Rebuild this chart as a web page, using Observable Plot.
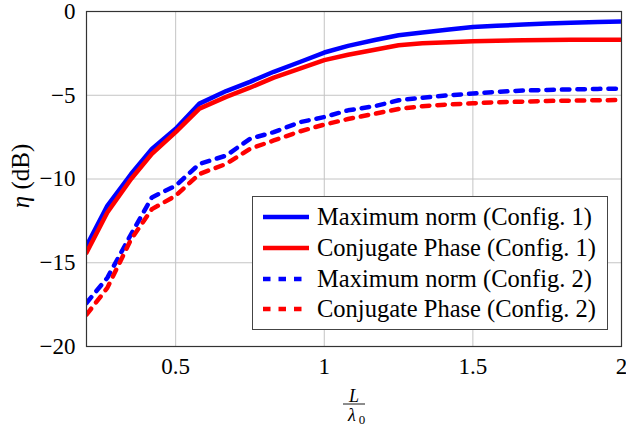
<!DOCTYPE html>
<html><head><meta charset="utf-8">
<script src="https://cdn.jsdelivr.net/npm/d3@7"></script>
<script src="https://cdn.jsdelivr.net/npm/@observablehq/plot@0.6"></script>
<style>
body{margin:0;background:#fff;}
#wrap{position:relative;width:626px;height:430px;font-family:"Liberation Serif","Times New Roman",serif;}
#legend{position:absolute;left:252px;top:196px;width:356px;height:134px;box-sizing:border-box;border:1px solid #444;background:#fff;}
.row{position:absolute;left:0;height:30px;display:flex;align-items:center;font-size:24.5px;color:#000;white-space:nowrap;}
.row svg{margin-left:10px;margin-right:8px;}
#ylabel{position:absolute;left:21px;top:176px;transform:translate(-50%,-50%) rotate(-90deg);font-size:25px;white-space:nowrap;}
#frac{position:absolute;left:0;top:0;pointer-events:none;}
</style></head><body><div id="wrap"></div>
<script>
const xs  = [0.2, 0.27, 0.35, 0.42, 0.5, 0.58, 0.67, 0.75, 0.83, 0.92, 1.0, 1.08, 1.17, 1.25, 1.33, 1.42, 1.5, 1.58, 1.67, 1.75, 1.83, 1.92, 2.0];
const mn1 = [-14.0, -11.6, -9.7, -8.2, -7.0, -5.5, -4.75, -4.2, -3.6, -3.0, -2.45, -2.05, -1.7, -1.42, -1.25, -1.08, -0.93, -0.85, -0.78, -0.72, -0.67, -0.63, -0.6];
const cp1 = [-14.4, -12.0, -10.0, -8.5, -7.2, -5.8, -5.1, -4.55, -3.95, -3.4, -2.9, -2.58, -2.28, -2.02, -1.9, -1.83, -1.78, -1.74, -1.71, -1.7, -1.69, -1.68, -1.68];
const mn2 = [-17.4, -15.9, -13.3, -11.1, -10.4, -9.1, -8.6, -7.6, -7.2, -6.6, -6.3, -5.9, -5.65, -5.3, -5.15, -5.0, -4.9, -4.8, -4.72, -4.68, -4.65, -4.62, -4.6];
const cp2 = [-18.1, -16.5, -13.6, -11.8, -11.0, -9.7, -9.1, -8.2, -7.7, -7.15, -6.75, -6.42, -6.1, -5.82, -5.65, -5.55, -5.48, -5.42, -5.38, -5.34, -5.32, -5.3, -5.28];
const seriesNames = ["Maximum norm (Config. 1)", "Conjugate Phase (Config. 1)", "Maximum norm (Config. 2)", "Conjugate Phase (Config. 2)"];
const seriesValues = [mn1, cp1, mn2, cp2];
const seriesColors = ["#0000ff", "#ff0000", "#0000ff", "#ff0000"];
const seriesDash = [null, null, "7.5,8", "7.5,8"];
const xTicks = [0.5, 1, 1.5, 2];
const yTicks = [0, -5, -10, -15, -20];

const series = seriesValues.map((vals, i) => vals.map((v, j) => ({x: xs[j], y: v, s: seriesNames[i]})));

const fmt = d => (d < 0 ? "\u2212" + String(-d) : String(d));
const FONT = '"Liberation Serif","Times New Roman",serif';

const chart = Plot.plot({
  width: 626,
  height: 430,
  marginLeft: 86,
  marginRight: 5,
  marginTop: 11,
  marginBottom: 84,
  style: {fontFamily: FONT, fontSize: "23px", background: "#fff", color: "#000"},
  x: {domain: [0.2, 2]},
  y: {domain: [-20, 0]},
  marks: [
    Plot.gridX(xTicks, {stroke: "#c4c4c4", strokeOpacity: 1, strokeWidth: 1}),
    Plot.gridY(yTicks, {stroke: "#c4c4c4", strokeOpacity: 1, strokeWidth: 1}),
    ...series.map((d, i) => Plot.line(d, {x: "x", y: "y", stroke: seriesColors[i], strokeWidth: 4.5, strokeDasharray: seriesDash[i] || undefined, strokeLinejoin: "round", clip: true})),
    Plot.frame({stroke: "#333", strokeWidth: 1.2}),
    Plot.axisX(xTicks, {tickSize: 0, tickPadding: 11, tickFormat: d => String(d), fontSize: 23, fontFamily: FONT, label: null}),
    Plot.axisY(yTicks, {tickSize: 0, tickPadding: 11, tickFormat: fmt, fontSize: 23, fontFamily: FONT, label: null})
  ]
});

const wrap = document.getElementById("wrap");
wrap.appendChild(chart);

const legend = document.createElement("div");
legend.id = "legend";
const rowCenters = [20, 51, 82, 112];
seriesNames.forEach((name, i) => {
  const row = document.createElement("div");
  row.className = "row";
  row.style.top = (rowCenters[i] - 15) + "px";
  const dash = seriesDash[i] ? ` stroke-dasharray="${seriesDash[i]}"` : "";
  row.innerHTML = `<svg width="46" height="10"><line x1="0" y1="5" x2="46" y2="5" stroke="${seriesColors[i]}" stroke-width="4.5"${dash}/></svg><span>${name}</span>`;
  legend.appendChild(row);
});
wrap.appendChild(legend);

const yl = document.createElement("div");
yl.id = "ylabel";
yl.innerHTML = '<i>η</i> (dB)';
wrap.appendChild(yl);

const ns = "http://www.w3.org/2000/svg";
const frac = document.createElementNS(ns, "svg");
frac.setAttribute("id", "frac");
frac.setAttribute("width", "626");
frac.setAttribute("height", "430");
frac.innerHTML = `<g font-family='${FONT}' font-size="18" fill="#000">
  <text x="354" y="401.5" text-anchor="middle" font-style="italic">L</text>
  <line x1="343" x2="365" y1="404" y2="404" stroke="#000" stroke-width="0.9"/>
  <text x="352" y="421" text-anchor="middle"><tspan font-style="italic">λ</tspan></text>
  <text x="362" y="424" text-anchor="middle" font-size="13">0</text>
</g>`;
wrap.appendChild(frac);
</script>
</body></html>
